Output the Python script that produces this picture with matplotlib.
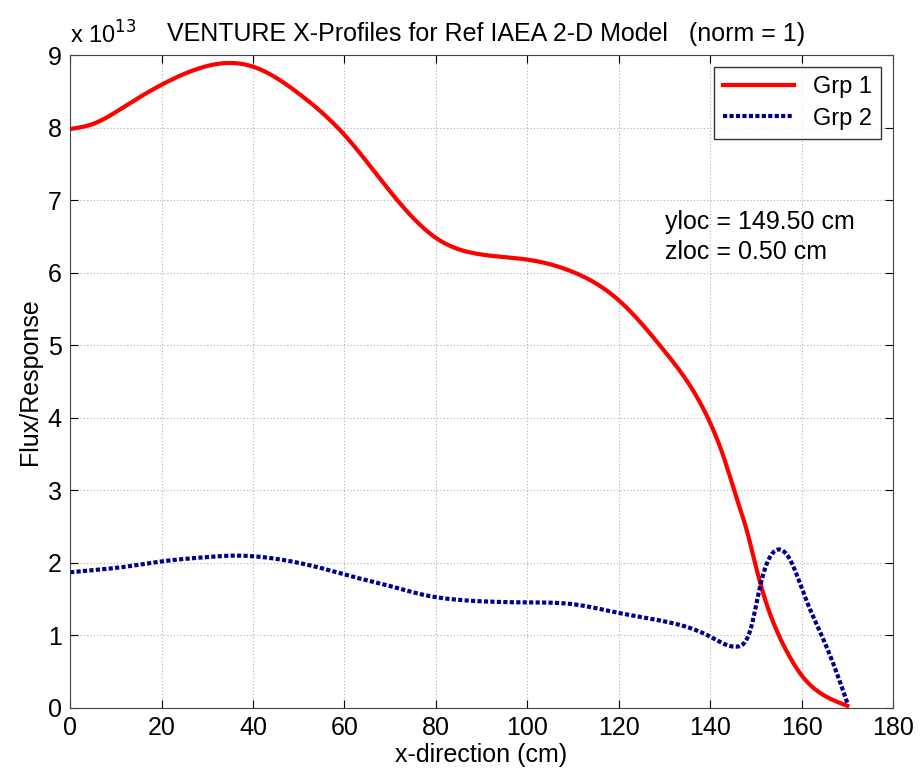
import numpy as np
import matplotlib
matplotlib.use("Agg")
import matplotlib.pyplot as plt
from matplotlib.ticker import FuncFormatter

plt.rcParams["font.family"] = ["Liberation Sans", "DejaVu Sans"]

# flux profiles along x (units of 1e13)
x_grp1 = [0, 5, 12.4, 19.7, 27, 34.3, 40, 50, 60, 70, 80, 90, 100, 110, 120,
          130, 135, 140, 143, 146, 148, 150, 152, 154, 157, 160, 165, 170]
grp1 = [7.98, 8.05, 8.31, 8.58, 8.79, 8.89, 8.84, 8.47, 7.9, 7.12, 6.48, 6.25,
        6.18, 6.01, 5.62, 4.92, 4.5, 3.93, 3.45, 2.85, 2.45, 1.95, 1.5, 1.15,
        0.75, 0.45, 0.17, 0.03]

x_grp2 = [0, 5, 10, 20, 30, 36, 42, 50, 56, 63, 70, 78, 85, 92, 100, 110, 120,
          131, 137, 141, 144, 145.8, 147.5, 149, 150.9, 152.4, 154.6, 157.5,
          161, 164.8, 167.7, 170]
grp2 = [1.87, 1.9, 1.93, 2.02, 2.08, 2.1, 2.08, 2.0, 1.91, 1.79, 1.68, 1.55,
        1.49, 1.465, 1.455, 1.43, 1.31, 1.18, 1.07, 0.95, 0.86, 0.845, 0.9,
        1.12, 1.67, 1.99, 2.18, 2.04, 1.49, 0.94, 0.48, 0.07]

scale = 1e13
x_ticks = list(range(0, 181, 20))
y_ticks = [v * scale for v in range(0, 10)]


def spline(xs, ys, n=600):
    # natural cubic spline through the sampled points
    xs = np.asarray(xs, float)
    ys = np.asarray(ys, float)
    npt = len(xs)
    h = np.diff(xs)
    A = np.zeros((npt, npt))
    b = np.zeros(npt)
    A[0, 0] = A[-1, -1] = 1.0
    for i in range(1, npt - 1):
        A[i, i - 1] = h[i - 1]
        A[i, i] = 2 * (h[i - 1] + h[i])
        A[i, i + 1] = h[i]
        b[i] = 6 * ((ys[i + 1] - ys[i]) / h[i] - (ys[i] - ys[i - 1]) / h[i - 1])
    M = np.linalg.solve(A, b)
    xf = np.linspace(xs[0], xs[-1], n)
    k = np.clip(np.searchsorted(xs, xf) - 1, 0, npt - 2)
    a = xs[k + 1] - xf
    c = xf - xs[k]
    hk = h[k]
    yf = (M[k] * a**3 + M[k + 1] * c**3) / (6 * hk) \
        + (ys[k] / hk - M[k] * hk / 6) * a \
        + (ys[k + 1] / hk - M[k + 1] * hk / 6) * c
    return xf, yf


fig = plt.figure(figsize=(9.22, 7.75), dpi=100)
ax = fig.add_axes([0.076, 0.0865, 0.8926, 0.8425])

xs1, ys1 = spline(x_grp1, grp1)
xs2, ys2 = spline(x_grp2, grp2)
ax.plot(xs1, np.clip(ys1, 0, None) * scale, color="#ff0000", lw=3,
        label="Grp 1")
ax.plot(xs2, np.clip(ys2, 0, None) * scale, color="#00008f", lw=3,
        linestyle=(0, (1, 0.55)), label="Grp 2")

ax.set_xlim(0, 180)
ax.set_ylim(0, 9 * scale)
ax.set_xticks(x_ticks)
ax.set_yticks(y_ticks)
ax.yaxis.set_major_formatter(FuncFormatter(lambda v, p: f"{v / scale:g}"))
ax.tick_params(direction="in", length=6, labelsize=18, top=True, right=True,
               pad=6)
ax.grid(True, linestyle=(0, (1, 2)), color="#b0b0b0", lw=0.8)
for s in ax.spines.values():
    s.set_color("#444444")

ax.set_xlabel("x-direction (cm)", fontsize=18, labelpad=2)
ax.set_ylabel("Flux/Response", fontsize=18, labelpad=4)
ax.set_title("VENTURE X-Profiles for Ref IAEA 2-D Model   (norm = 1)",
             fontsize=18, pad=10, x=0.505)
ax.text(0.0, 1.01, r"x 10$^{13}$", transform=ax.transAxes, fontsize=17,
        ha="left", va="bottom")

ax.text(130.2, 6.49 * scale, "yloc = 149.50 cm\nzloc = 0.50 cm", fontsize=18,
        va="center", linespacing=1.3)

leg = ax.legend(loc="upper right", fontsize=17, frameon=True, fancybox=False,
                edgecolor="black", handlelength=3, borderaxespad=0.5,
                labelspacing=0.4, borderpad=0.4)
leg.get_frame().set_linewidth(1.0)

plt.savefig("out.png", dpi=100)
